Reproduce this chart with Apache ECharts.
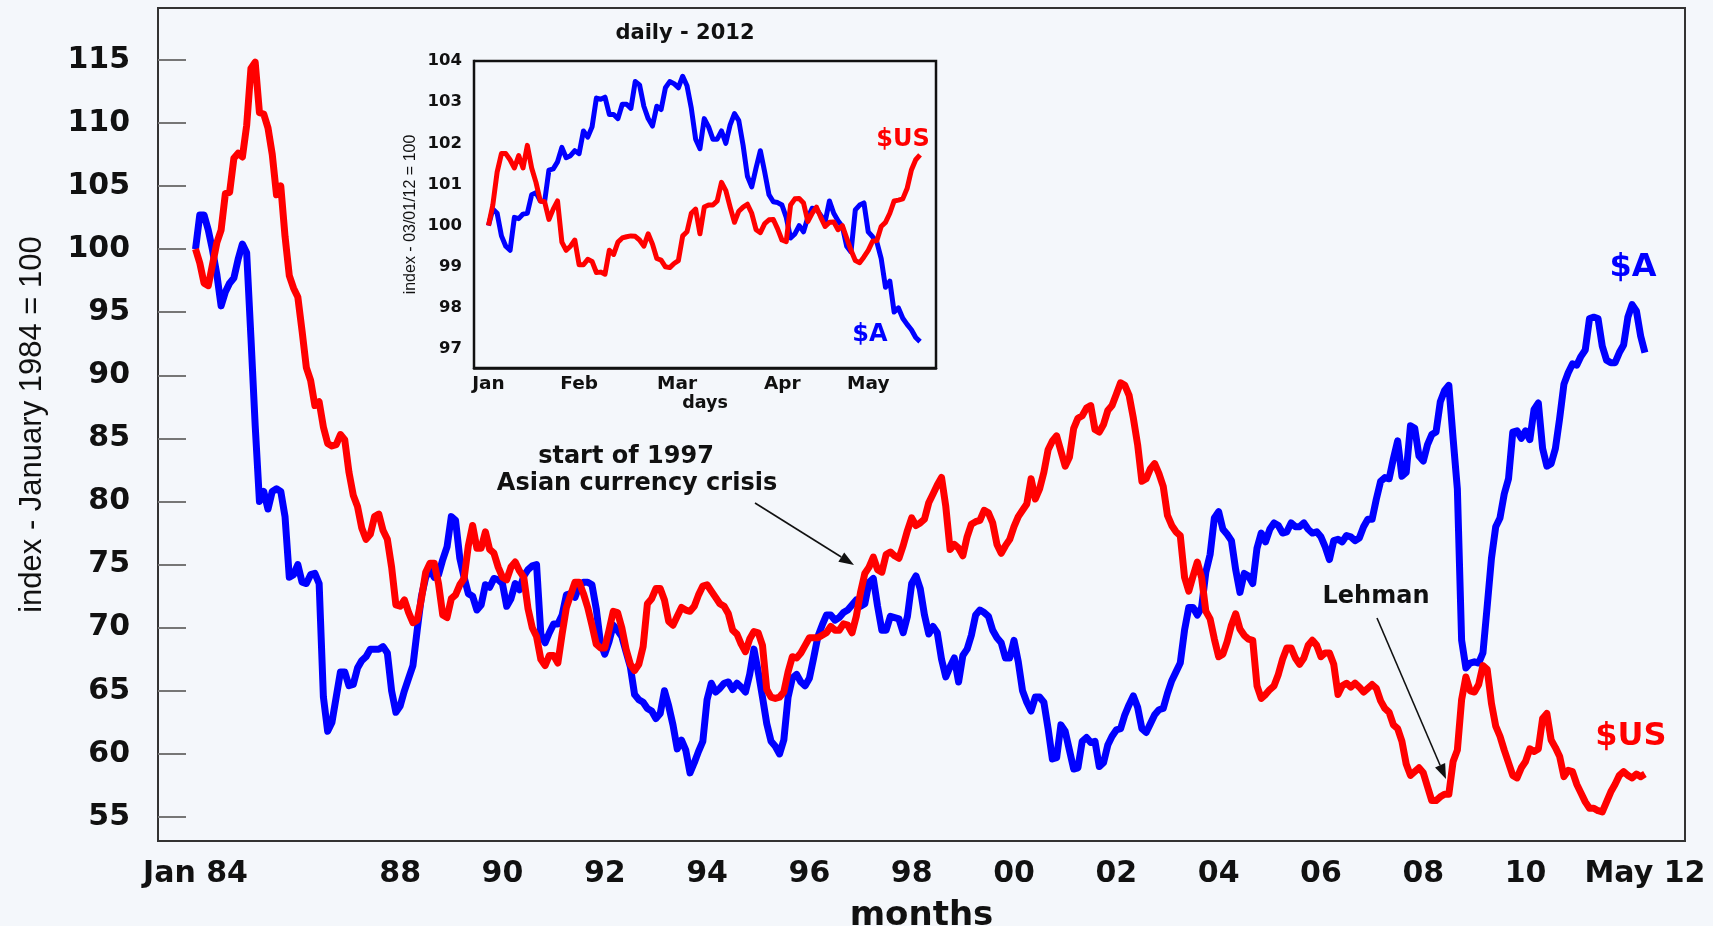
<!DOCTYPE html>
<html>
<head>
<meta charset="utf-8">
<script src="https://cdn.jsdelivr.net/npm/echarts@6/dist/echarts.min.js"></script>
<style>
html,body{margin:0;padding:0;background:#f4f7fb;}
#c{width:1713px;height:926px;}
</style>
</head>
<body>
<div id="c"></div>
<script>
// ---------- main chart (monthly, Jan 1984 = month 0) ----------
const monthTickValues = [0, 48, 72, 96, 120, 144, 168, 192, 216, 240, 264, 288, 312, 340];
const monthTickLabels = ['Jan 84', '88', '90', '92', '94', '96', '98', '00', '02', '04', '06', '08', '10', 'May 12'];
const mainYTicks = [55, 60, 65, 70, 75, 80, 85, 90, 95, 100, 105, 110, 115];

// $US index (red)
const usdMonthly = [
  100, 98.9, 97.3, 97.1, 98.8, 100.5, 101.5, 104.4, 104.5, 107.2, 107.6, 107.3,
  109.8, 114.3, 114.8, 110.8, 110.7, 109.6, 107.5, 104.3, 105, 101, 97.9, 96.9,
  96.2, 93.5, 90.6, 89.6, 87.6, 87.9, 85.9, 84.6, 84.4, 84.5, 85.3, 84.9,
  82.3, 80.5, 79.6, 77.9, 77, 77.4, 78.8, 79, 77.7, 77, 74.8, 71.8,
  71.7, 72.2, 71.2, 70.4, 70.6, 72.3, 74.4, 75.1, 75.1, 73.5, 71, 70.8,
  72.3, 72.6, 73.4, 73.9, 76.5, 78.1, 76.3, 76.3, 77.6, 76.2, 75.9, 74.8,
  74, 73.8, 74.8, 75.2, 74.5, 74, 71.5, 70, 69.3, 67.5, 67, 67.8,
  67.8, 67.2, 69.5, 71.6, 72.6, 73.6, 73.6, 72.7, 71.6, 70.2, 68.7, 68.4,
  68.4, 69.8, 71.3, 71.2, 70, 68.3, 67.1, 66.6, 67.1, 68.5, 71.9, 72.3,
  73.1, 73.1, 72.2, 70.5, 70.2, 70.9, 71.6, 71.4, 71.3, 71.7, 72.6, 73.3,
  73.4, 72.9, 72.4, 71.9, 71.7, 71.1, 69.8, 69.5, 68.7, 68.1, 69.1, 69.7,
  69.6, 68.6, 65.1, 64.5, 64.4, 64.5, 64.9, 66.5, 67.7, 67.6, 68, 68.6,
  69.2, 69.2, 69.2, 69.4, 69.6, 70.1, 69.8, 69.8, 70.3, 70.2, 69.6, 70.9,
  72.8, 74.3, 74.8, 75.6, 74.6, 74.4, 75.8, 76, 75.7, 75.5, 76.5, 77.7,
  78.7, 78.1, 78.3, 78.6, 79.9, 80.6, 81.3, 81.9, 79.6, 76.2, 76.6, 76.3,
  75.7, 77.2, 78.2, 78.4, 78.5, 79.3, 79.1, 78.3, 76.6, 75.9, 76.5, 77,
  78, 78.8, 79.3, 79.8, 81.8, 80.2, 81, 82.3, 84.1, 84.8, 85.2, 84,
  82.8, 83.5, 85.8, 86.6, 86.8, 87.4, 87.6, 85.7, 85.5, 86.1, 87.2, 87.6,
  88.5, 89.4, 89.2, 88.4, 86.6, 84.5, 81.6, 81.8, 82.6, 83, 82.2, 81.2,
  78.9, 78.1, 77.6, 77.3, 74, 72.9, 74.1, 75.2, 74, 71.3, 70.7, 69.1,
  67.7, 67.9, 68.9, 70.2, 71.1, 69.9, 69.4, 69.1, 69, 65.4, 64.4, 64.7,
  65.1, 65.4, 66.3, 67.5, 68.4, 68.4, 67.6, 67.1, 67.6, 68.6, 69, 68.6,
  67.7, 68, 68, 67.1, 64.7, 65.4, 65.6, 65.3, 65.6, 65.3, 64.9, 65.2,
  65.5, 65.2, 64.2, 63.6, 63.3, 62.3, 62, 61, 59.2, 58.3, 58.6, 58.9,
  58.5, 57.4, 56.3, 56.3, 56.6, 56.8, 56.8, 59.4, 60.3, 64.3, 66.1, 65,
  64.9, 65.5, 67, 66.7, 64, 62.2, 61.4, 60.3, 59.3, 58.3, 58.1, 58.9,
  59.4, 60.4, 60.2, 60.4, 62.8, 63.2, 61.1, 60.5, 59.8, 58.2, 58.7, 58.6,
  57.6, 56.9, 56.2, 55.7, 55.7, 55.5, 55.4, 56.2, 57, 57.6, 58.3, 58.6,
  58.3, 58.1, 58.4, 58.2, 58.4
];

// $A index (blue)
const audMonthly = [
  100, 102.7, 102.7, 101.5, 99.9, 98, 95.5, 96.6, 97.3, 97.7, 99.2, 100.4,
  99.7, 93, 86, 80, 80.8, 79.4, 80.8, 81, 80.8, 78.8, 74, 74.2,
  75, 73.6, 73.5, 74.2, 74.3, 73.5, 64.5, 61.8, 62.5, 64.5, 66.5, 66.5,
  65.4, 65.5, 66.8, 67.4, 67.7, 68.3, 68.3, 68.3, 68.5, 68, 65, 63.3,
  63.8, 65, 66, 67, 69.8, 72.5, 74, 74.6, 74, 74.2, 75.4, 76.4,
  78.8, 78.5, 75.5, 74, 72.7, 72.5, 71.4, 71.8, 73.4, 73.2, 73.9, 73.8,
  73.5, 71.7, 72.3, 73.5, 73, 74.1, 74.6, 74.9, 75, 69.5, 68.8, 69.6,
  70.3, 70.3, 71, 72.6, 72.7, 72.4, 73.3, 73.6, 73.6, 73.4, 71.5, 68.8,
  67.9, 68.9, 70.2, 69.8, 69.3, 68.1, 66.9, 64.7, 64.3, 64.1, 63.6, 63.4,
  62.8, 63.2, 65, 63.8, 62.3, 60.4, 61.1, 60.3, 58.5, 59.3, 60.2, 61,
  64.3, 65.6, 64.9, 65.2, 65.6, 65.7, 65.1, 65.6, 65.3, 64.9, 66.3, 68.3,
  66.5, 64.5, 62.4, 61, 60.6, 60, 61.1, 64.5, 66, 66.3, 65.7, 65.4,
  66, 67.6, 69.3, 70.2, 71, 71, 70.6, 70.8, 71.2, 71.4, 71.8, 72.2,
  71.7, 71.9, 73.6, 73.9, 71.7, 69.8, 69.8, 70.9, 70.8, 70.7, 69.6, 70.9,
  73.5, 74.1, 73.1, 71, 69.5, 70.1, 69.6, 67.5, 66.1, 66.9, 67.6, 65.7,
  67.8, 68.3, 69.4, 71, 71.4, 71.2, 70.9, 69.8, 69.2, 68.8, 67.6, 67.6,
  69, 67.3, 65, 64.1, 63.4, 64.5, 64.5, 64.1, 62, 59.6, 59.7, 62.3,
  61.8, 60.3, 58.8, 58.9, 61, 61.3, 60.9, 61, 59, 59.3, 60.7, 61.4,
  61.9, 62, 63.1, 63.9, 64.6, 63.7, 62, 61.7, 62.4, 63.1, 63.5, 63.6,
  64.8, 65.8, 66.5, 67.2, 69.8, 71.6, 71.6, 71, 71.6, 74.4, 75.8, 78.7,
  79.2, 77.8, 77.4, 76.9, 74.6, 72.8, 74.3, 74.1, 73.5, 76.3, 77.5, 76.8,
  77.8, 78.3, 78.1, 77.5, 77.6, 78.3, 78, 78, 78.3, 77.8, 77.5, 77.6,
  77.2, 76.4, 75.4, 76.9, 77, 76.8, 77.3, 77.2, 76.9, 77.1, 78, 78.6,
  78.6, 80.2, 81.6, 81.9, 81.8, 83.4, 84.8, 82, 82.3, 86, 85.8, 83.6,
  83.2, 84.5, 85.3, 85.5, 87.9, 88.8, 89.2, 85, 81, 69, 66.8, 67.2,
  67.3, 67.2, 68, 71.7, 75.5, 78, 78.7, 80.6, 81.8, 85.5, 85.6, 85,
  85.6, 84.9, 87.3, 87.8, 84.2, 82.8, 83, 84.2, 86.6, 89.3, 90.2, 90.9,
  90.8, 91.5, 92, 94.5, 94.6, 94.5, 92.3, 91.2, 91, 91, 91.8, 92.4,
  94.6, 95.6, 95.1, 93.1, 91.8
];

// ---------- inset (daily 2012, trading day index) ----------
const dayTickValues = [0, 21, 43.7, 68.1, 88];
const dayTickLabels = ['Jan', 'Feb', 'Mar', 'Apr', 'May'];
const insetYTicks = [97, 98, 99, 100, 101, 102, 103, 104];

const audDaily = [
  100, 100.4, 100.3, 99.75, 99.5, 99.4, 100.2, 100.17, 100.28, 100.3,
  100.75, 100.8, 100.6, 100.58, 101.35, 101.38, 101.55, 101.9, 101.65, 101.7,
  101.82, 101.75, 102.3, 102.15, 102.4, 103.1, 103.07, 103.12, 102.7, 102.7,
  102.6, 102.95, 102.95, 102.85, 103.5, 103.42, 102.9, 102.6, 102.42, 102.9,
  102.82, 103.35, 103.5, 103.45, 103.35, 103.63, 103.4, 102.85, 102.1, 101.87,
  102.6, 102.4, 102.1, 102.1, 102.3, 102, 102.45, 102.72, 102.55, 101.95,
  101.2, 100.94, 101.4, 101.82, 101.3, 100.75, 100.58, 100.56, 100.5, 100.2,
  99.7, 99.8, 100, 99.85, 100.2, 100.42, 100.4, 100.25, 100.09, 100.6,
  100.3, 100.12, 99.98, 99.5, 99.36, 100.38, 100.5, 100.55, 99.85, 99.73,
  99.6, 99.2, 98.5, 98.65, 97.9, 98.0, 97.75, 97.6, 97.47, 97.28,
  97.18
];
const usdDaily = [
  100, 100.5, 101.3, 101.75, 101.75, 101.6, 101.4, 101.7, 101.4, 101.95,
  101.4, 101.05, 100.6, 100.58, 100.15, 100.4, 100.6, 99.6, 99.4, 99.5,
  99.65, 99.05, 99.05, 99.18, 99.13, 98.86, 98.87, 98.82, 99.4, 99.3,
  99.6, 99.7, 99.73, 99.75, 99.74, 99.65, 99.5, 99.8, 99.55, 99.2,
  99.16, 99.0, 98.98, 99.08, 99.15, 99.75, 99.85, 100.3, 100.4, 99.8,
  100.45, 100.5, 100.5, 100.6, 101.05, 100.85, 100.45, 100.08, 100.35, 100.45,
  100.52, 100.3, 99.9, 99.83, 100.05, 100.14, 100.15, 99.92, 99.65, 99.61,
  100.5, 100.65, 100.66, 100.55, 100.1, 100.3, 100.45, 100.2, 99.98, 100.08,
  100.09, 99.9, 100, 99.7, 99.4, 99.15, 99.1, 99.24, 99.4, 99.62,
  99.64, 99.98, 100.08, 100.3, 100.6, 100.62, 100.65, 100.9, 101.35, 101.6,
  101.72
];

// ---------- styling ----------
const BLUE = '#0000ff', RED = '#ff0000', INK = '#111111';
const FONT = "'DejaVu Sans', 'Liberation Sans', sans-serif";
const PLAIN = "'Liberation Sans', Arial, sans-serif";

const toPairs = arr => arr.map((v, i) => [i, v]);
const pickLabel = (vals, labels) => v => {
  const i = vals.findIndex(t => Math.abs(t - v) < 1e-6);
  return i >= 0 ? labels[i] : '';
};

function arrow(x1, y1, x2, y2) {
  const dx = x2 - x1, dy = y2 - y1, L = Math.hypot(dx, dy);
  const ux = dx / L, uy = dy / L, hl = 15, hw = 5.5;
  const bx = x2 - ux * hl, by = y2 - uy * hl;
  return [
    { type: 'line', z: 100, shape: { x1: x1, y1: y1, x2: bx, y2: by }, style: { stroke: INK, lineWidth: 1.6 } },
    { type: 'polygon', z: 100, shape: { points: [[x2, y2], [bx - uy * hw, by + ux * hw], [bx + uy * hw, by - ux * hw]] }, style: { fill: INK } }
  ];
}
function txt(text, x, y, size, color, align) {
  return { type: 'text', z: 100, x: x, y: y,
    style: { text: text, fill: color || INK, font: 'bold ' + size + 'px ' + FONT,
             align: align || 'center', verticalAlign: 'middle' } };
}

const chart = echarts.init(document.getElementById('c'), null, { renderer: 'canvas' });

const option = {
  animation: false,
  backgroundColor: '#f4f7fb',
  grid: [
    { left: 158, top: 8, width: 1527, height: 833, show: true, borderColor: '#333', borderWidth: 2,
      backgroundColor: 'transparent', containLabel: false, outerBoundsMode: 'none' },
    { left: 474, top: 61, width: 462, height: 307, show: true, borderColor: INK, borderWidth: 2.5,
      backgroundColor: '#f4f7fb', containLabel: false, outerBoundsMode: 'none', z: 5 }
  ],
  xAxis: [
    { type: 'value', gridIndex: 0, min: -8.8, max: 349.4,
      axisLine: { show: true, onZero: false, lineStyle: { color: '#333', width: 2 } },
      axisTick: { show: false },
      splitLine: { show: false },
      axisLabel: { customValues: monthTickValues, formatter: pickLabel(monthTickValues, monthTickLabels),
                   margin: 18, fontFamily: FONT, fontWeight: 'bold', fontSize: 30, color: INK,
                   showMinLabel: true, showMaxLabel: true, hideOverlap: false },
      name: 'months', nameLocation: 'middle', nameGap: 58, nameMoveOverlap: false,
      nameTextStyle: { fontFamily: FONT, fontWeight: 'bold', fontSize: 34, color: INK } },
    { type: 'value', gridIndex: 1, min: -3.36, max: 103.7,
      axisLine: { show: true, onZero: false, lineStyle: { color: INK, width: 2.5 } },
      axisTick: { show: false },
      splitLine: { show: false },
      axisLabel: { customValues: dayTickValues, formatter: pickLabel(dayTickValues, dayTickLabels),
                   margin: 7, fontFamily: FONT, fontWeight: 'bold', fontSize: 18.5, color: INK, hideOverlap: false },
      name: 'days', nameLocation: 'middle', nameGap: 26, nameMoveOverlap: false,
      nameTextStyle: { fontFamily: FONT, fontWeight: 'bold', fontSize: 17.5, color: INK } }
  ],
  yAxis: [
    { type: 'value', gridIndex: 0, min: 53.1, max: 119.1,
      axisLine: { show: true, onZero: false, lineStyle: { color: '#333', width: 2 } },
      axisTick: { show: true, inside: true, length: 28, customValues: mainYTicks, lineStyle: { color: '#767676', width: 2 } },
      splitLine: { show: false },
      axisLabel: { customValues: mainYTicks, margin: 28, fontFamily: FONT, fontWeight: 'bold', fontSize: 30, color: INK, hideOverlap: false },
      name: 'index - January 1984 = 100', nameLocation: 'middle', nameGap: 110, nameRotate: 90, nameMoveOverlap: false,
      nameTextStyle: { fontFamily: PLAIN, fontSize: 31, color: INK } },
    { type: 'value', gridIndex: 1, min: 96.54, max: 104,
      axisLine: { show: true, onZero: false, lineStyle: { color: INK, width: 2.5 } },
      axisTick: { show: true, inside: true, length: 12, customValues: insetYTicks, lineStyle: { color: '#333', width: 2 } },
      splitLine: { show: false },
      axisLabel: { customValues: insetYTicks, margin: 12, fontFamily: FONT, fontWeight: 'bold', fontSize: 16.5, color: INK, hideOverlap: false },
      name: 'index - 03/01/12 = 100', nameLocation: 'middle', nameGap: 55, nameRotate: 90, nameMoveOverlap: false,
      nameTextStyle: { fontFamily: PLAIN, fontSize: 16, color: INK } }
  ],
  series: [
    { name: '$A', type: 'line', xAxisIndex: 0, yAxisIndex: 0, data: toPairs(audMonthly), showSymbol: false,
      symbol: 'none', lineStyle: { color: BLUE, width: 7, join: 'round' }, z: 2 },
    { name: '$US', type: 'line', xAxisIndex: 0, yAxisIndex: 0, data: toPairs(usdMonthly), showSymbol: false,
      symbol: 'none', lineStyle: { color: RED, width: 7, join: 'round' }, z: 3 },
    { name: '$A daily', type: 'line', xAxisIndex: 1, yAxisIndex: 1, data: toPairs(audDaily), showSymbol: false,
      symbol: 'none', lineStyle: { color: BLUE, width: 5, join: 'round' }, z: 6 },
    { name: '$US daily', type: 'line', xAxisIndex: 1, yAxisIndex: 1, data: toPairs(usdDaily), showSymbol: false,
      symbol: 'none', lineStyle: { color: RED, width: 5, join: 'round' }, z: 7 }
  ],
  graphic: [].concat(
    [ txt('daily - 2012', 685, 34, 21),
      txt('$US', 903, 140, 24, RED),
      txt('$A', 870, 335, 24, BLUE),
      txt('$A', 1633, 268, 32, BLUE),
      txt('$US', 1631, 737, 32, RED),
      txt('start of 1997', 626, 457, 24),
      txt('Asian currency crisis', 637, 484, 24),
      txt('Lehman', 1376, 597, 24) ],
    arrow(755, 503, 854, 565),
    arrow(1377, 618, 1446, 779)
  )
};
chart.setOption(option);
</script>
</body>
</html>
